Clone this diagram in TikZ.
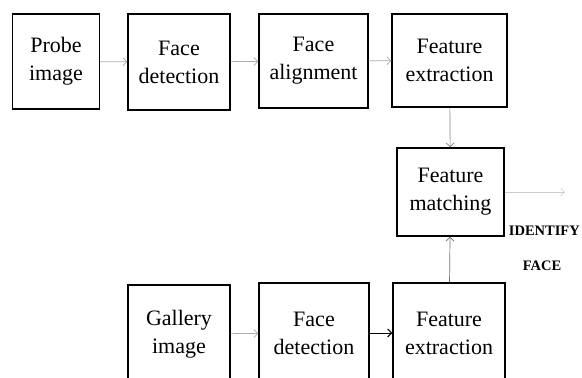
\documentclass[tikz,border=0pt]{standalone}
\usepackage{fontspec}
\setmainfont{Liberation Serif}
\usetikzlibrary{arrows.meta}
\begin{document}
\begin{tikzpicture}[x=1pt,y=-1pt,
    blk/.style={draw,line width=1.3pt,align=center,inner sep=0pt,
      font=\fontsize{22}{28}\selectfont},
    flow/.style={-{Straight Barb[length=4pt,width=8pt]},draw=gray!65,line width=0.7pt},
    lbl/.style={font=\fontsize{14.5}{17}\selectfont\bfseries,inner sep=0pt}]
  \useasboundingbox (0,0) rectangle (582,378);
  % top row
  \node[blk,minimum width=87pt,minimum height=95pt] (probe) at(56,61.5) {Probe\\image};
  \node[blk,minimum width=102pt,minimum height=96pt] (det) at(179,62) {Face\\detection};
  \node[blk,minimum width=109pt,minimum height=94pt] (align) at(313.5,61) {Face\\alignment};
  \node[blk,minimum width=115pt,minimum height=93pt] (feat) at(449.5,60.5) {Feature\\extraction};
  % matching
  \node[blk,minimum width=107pt,minimum height=88pt] (match) at(450.5,192) {Feature\\matching};
  % bottom row
  \node[blk,minimum width=102pt,minimum height=98pt] (gal) at(179,334) {Gallery\\image};
  \node[blk,minimum width=110pt,minimum height=100pt] (det2) at(314,333) {Face\\detection};
  \node[blk,minimum width=112pt,minimum height=100pt] (feat2) at(449,333) {Feature\\extraction};
  \coordinate (out) at(565,192);
  \node[lbl,anchor=east] (id1) at(580,231) {IDENTIFY};
  \node[lbl] (id2) at(542,266) {FACE};
  % connectors
  \draw[flow] (probe) -- (det);
  \draw[flow] (det) -- (align);
  \draw[flow] (align) -- (feat);
  \draw[flow,draw=gray] (feat) -- (match);
  \draw[flow,draw=gray!40] (match) -- (out);
  \draw[flow] (gal) -- (det2);
  \draw[flow,draw=black,line width=1pt] (det2) -- (feat2);
  \draw[flow,draw=gray!90!black] (feat2) -- (match);
\end{tikzpicture}
\end{document}
